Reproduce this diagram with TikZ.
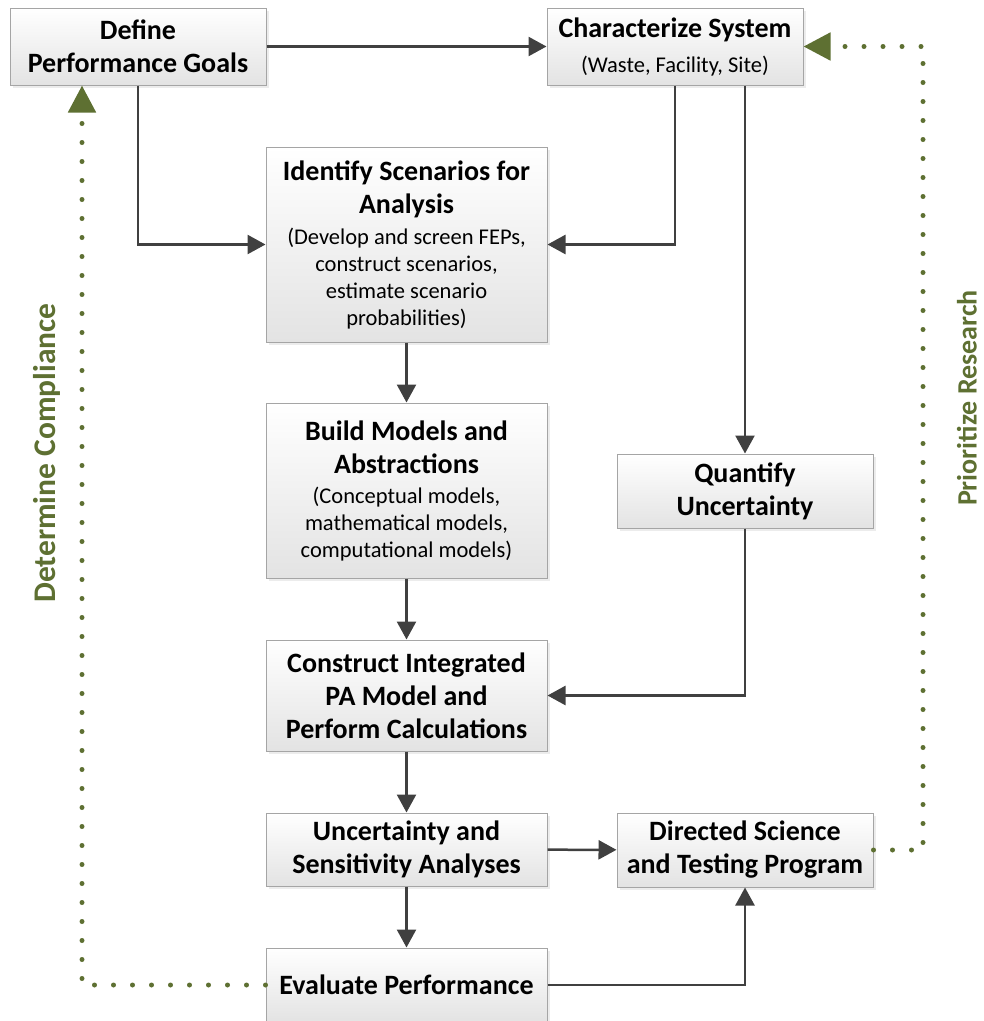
\documentclass[tikz,border=0pt]{standalone}
\usepackage{fontspec}
\setmainfont{Carlito}
\usetikzlibrary{arrows.meta, shadows}
\definecolor{linegray}{RGB}{64,64,64}
\definecolor{fbgreen}{RGB}{94,112,50}
\definecolor{boxedge}{RGB}{165,165,165}
\newcommand{\boxttl}{\fontsize{28}{33}\selectfont\bfseries}
\newcommand{\boxsub}{\fontsize{22.5}{27}\selectfont\mdseries}

\begin{document}
\begin{tikzpicture}[x=1pt, y=-1pt,
  >={Triangle[length=18pt, width=19pt]},
  basebox/.style={draw=boxedge, line width=1pt, top color=white, bottom color=black!11,
    drop shadow={opacity=0.15, shadow xshift=2.5pt, shadow yshift=-2.5pt},
    align=flush center, inner sep=0pt, font=\boxttl},
  widebox/.style={basebox, minimum width=281pt, text width=274pt},
  narrowbox/.style={basebox, minimum width=256pt, text width=250pt},
  flow/.style={linegray, line width=2.5pt, ->},
  feedback/.style={fbgreen, line width=5pt, line cap=round, dash pattern=on 0pt off 19pt,
    -{Triangle[length=27pt, width=27pt]}},
  sidelabel/.style={fbgreen, font=\boxttl, rotate=90}]
  \useasboundingbox (0,0) rectangle (984,1021);
  % top row
  \node[narrowbox, minimum height=77pt] (goals) at (138,46.5) {Define\\Performance Goals\par};
  \node[narrowbox, minimum height=77pt] (charsys) at (675,46.5)
    {Characterize System\par\vspace{8pt}\boxsub (Waste, Facility, Site)\par};
  % main column
  \node[widebox, minimum height=195pt] (scen) at (406.5,244.5)
    {Identify Scenarios for\\Analysis\par\vspace{4pt}\boxsub (Develop and screen FEPs,\\construct scenarios,\\estimate scenario\\probabilities)\par};
  \node[widebox, minimum height=175pt] (models) at (406.5,490.5)
    {Build Models and\\Abstractions\par\vspace{3pt}\boxsub (Conceptual models,\\mathematical models,\\computational models)\par};
  \node[widebox, minimum height=111pt] (integ) at (406.5,695.5)
    {Construct Integrated\\PA Model and\\Perform Calculations\par};
  \node[widebox, minimum height=73pt] (usa) at (406.5,849.5)
    {Uncertainty and\\Sensitivity Analyses\par};
  \node[widebox, minimum height=74pt] (evalp) at (406.5,985) {Evaluate Performance\par};
  % right column
  \node[narrowbox, minimum height=74pt] (quant) at (745,491) {Quantify\\Uncertainty\par};
  \node[narrowbox, minimum height=74pt] (directed) at (745,850)
    {Directed Science\\and Testing Program\par};
  % connectors
  \draw[flow] (goals) -- (charsys);
  \draw[flow] (goals.south) |- (scen.west);
  \draw[flow] (charsys.south) |- (scen.east);
  \draw[flow] (charsys.south -| quant.north) -- (quant.north);
  \draw[flow] (scen) -- (models);
  \draw[flow] (models) -- (integ);
  \draw[flow] (quant.south) |- (integ.east);
  \draw[flow] (integ) -- (usa);
  \draw[flow] (usa) -- (directed);
  \draw[flow] (usa) -- (evalp);
  \draw[flow] (evalp.east) -| (directed.south);
  % feedback loops
  \coordinate (leftrun) at (82,0);
  \coordinate (rightrun) at (923,0);
  \draw[feedback] (evalp.west) -| (leftrun |- goals.south);
  \draw[feedback] (directed.east) -| (rightrun |- charsys.east) -- (charsys.east);
  \node[sidelabel, font=\fontsize{31.5}{36}\selectfont\bfseries] (comply) at (47,453) {Determine Compliance};
  \node[sidelabel] (prio) at (967,398) {Prioritize Research};
\end{tikzpicture}
\end{document}
